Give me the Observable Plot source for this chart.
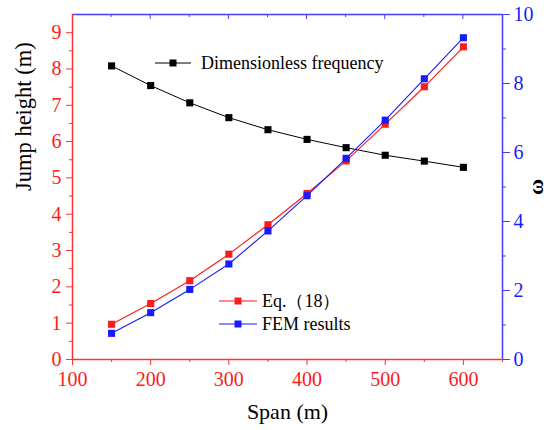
<!DOCTYPE html>
<html>
<head>
<meta charset="utf-8">
<script src="https://cdn.jsdelivr.net/npm/d3@7"></script>
<script src="https://cdn.jsdelivr.net/npm/@observablehq/plot@0.6"></script>
<style>
  html, body { margin: 0; padding: 0; background: #fff; }
  #chart svg { display: block; }
</style>
</head>
<body>
<div id="chart"></div>
<script>
// ---- data ----
const span = [150, 200, 250, 300, 350, 400, 450, 500, 550, 600];
const eq18 = [0.97, 1.54, 2.17, 2.90, 3.71, 4.57, 5.47, 6.48, 7.51, 8.61];
const fem = [0.72, 1.29, 1.93, 2.63, 3.54, 4.51, 5.54, 6.59, 7.73, 8.86];
const omega = [8.51, 7.94, 7.44, 7.01, 6.66, 6.38, 6.14, 5.92, 5.75, 5.57];

const xDomain = [100, 650];
const xMajor = [100, 200, 300, 400, 500, 600];
const xMinor = [150, 250, 350, 450, 550, 650];
const yDomain = [0, 9.5];
const yMajor = [0, 1, 2, 3, 4, 5, 6, 7, 8, 9];
const yMinor = [0.5, 1.5, 2.5, 3.5, 4.5, 5.5, 6.5, 7.5, 8.5];
const wDomain = [0, 10];
const wMajor = [0, 2, 4, 6, 8, 10];
const wMinor = [1, 3, 5, 7, 9];

const labels = {
  x: "Span (m)",
  y: "Jump height (m)",
  w: "ω",
  eq: "Eq.（18）",
  fem: "FEM results",
  freq: "Dimensionless frequency"
};

const RED = "#ff1a1a", BLUE = "#1a1aff", AXBLUE = "#4040ff", AXRED = "#ff3030";
const k = (yDomain[1] - yDomain[0]) / (wDomain[1] - wDomain[0]); // omega -> left scale

const rows = (ys, s) => span.map((x, i) => ({x, y: ys[i], s}));
const dEq = rows(eq18, "eq");
const dFem = rows(fem, "fem");
const dW = rows(omega.map(v => v * k), "w");

const font = "'Liberation Serif', 'Times New Roman', serif";

const chart = Plot.plot({
  width: 548,
  height: 430,
  marginLeft: 72,
  marginRight: 46,
  marginTop: 14,
  marginBottom: 71,
  style: {fontFamily: font, fontSize: "20px", background: "#fff", overflow: "visible"},
  x: {domain: xDomain},
  y: {domain: yDomain},
  marks: [
    // bottom axis
    Plot.axisX({ticks: xMajor, tickSize: 6, tickPadding: 6, stroke: AXRED, fill: RED, label: null, fontSize: 20}),
    Plot.axisX({ticks: xMinor, tickSize: 3, tickFormat: () => "", stroke: AXRED, label: null}),
    // left axis
    Plot.axisY({ticks: yMajor, tickSize: 6, tickPadding: 5, stroke: AXRED, fill: RED, label: null, fontSize: 20}),
    Plot.axisY({ticks: yMinor, tickSize: 3, tickFormat: () => "", stroke: AXRED, label: null}),
    // right axis (omega)
    Plot.axisY({anchor: "right", ticks: wMajor.map(v => v * k), tickFormat: d => String(Math.round(d / k)), tickSize: 7, tickPadding: 4, stroke: AXBLUE, fill: BLUE, label: null, fontSize: 20}),
    Plot.axisY({anchor: "right", ticks: wMinor.map(v => v * k), tickSize: 3, tickFormat: () => "", stroke: AXBLUE, label: null}),
    // frame lines
    Plot.ruleY([yDomain[1]], {stroke: AXBLUE, strokeWidth: 1.5}),
    Plot.ruleX([xDomain[1]], {stroke: AXBLUE, strokeWidth: 1.5}),
    Plot.ruleX([xDomain[0]], {stroke: AXRED, strokeWidth: 1.5}),
    Plot.ruleY([yDomain[0]], {stroke: AXRED, strokeWidth: 1.5}),
    // series
    Plot.line(dW, {x: "x", y: "y", stroke: "#000", strokeWidth: 1}),
    Plot.dot(dW, {x: "x", y: "y", symbol: "square", r: 4, fill: "#000"}),
    Plot.line(dEq, {x: "x", y: "y", stroke: RED, strokeWidth: 1.1}),
    Plot.dot(dEq, {x: "x", y: "y", symbol: "square", r: 4, fill: RED}),
    Plot.line(dFem, {x: "x", y: "y", stroke: BLUE, strokeWidth: 1.1}),
    Plot.dot(dFem, {x: "x", y: "y", symbol: "square", r: 4, fill: BLUE}),
    // axis titles
    Plot.text([labels.y], {text: d => d, frameAnchor: "left", dx: -49, dy: 4, rotate: -90, fontSize: 22.5, fill: "#000"}),
    Plot.text([labels.x], {text: d => d, frameAnchor: "bottom", lineAnchor: "middle", dy: 52, fontSize: 22, fill: "#000"}),
    Plot.text([labels.w], {text: d => d, frameAnchor: "right", dx: 33, dy: -8, rotate: -90, fontSize: 22, fontWeight: "bold", fill: "#000"})
  ]
});

const svg = d3.select(chart);
const xs = chart.scale("x");
// top inward ticks via the chart's own x scale
const topTicks = xMajor.concat(xMinor).filter(v => v > xDomain[0] && v < xDomain[1]);
svg.append("g").selectAll("line").data(topTicks).join("line")
  .attr("x1", d => xs.apply(d)).attr("x2", d => xs.apply(d))
  .attr("y1", 14).attr("y2", d => 14 + (d % 100 === 0 ? 5 : 3))
  .attr("stroke", AXBLUE).attr("stroke-width", 1);

// legends
function legendItem(g, x, y, color, text, len, gap) {
  g.append("line").attr("x1", x).attr("x2", x + len).attr("y1", y).attr("y2", y)
    .attr("stroke", color).attr("stroke-width", 1.1);
  g.append("rect").attr("x", x + len / 2 - 3.5).attr("y", y - 3.5).attr("width", 7).attr("height", 7).attr("fill", color);
  g.append("text").attr("x", x + len + gap).attr("y", y).attr("dy", "0.35em")
    .attr("text-anchor", "start")
    .attr("font-size", 18).attr("fill", "#000").text(text);
}
const lg = svg.append("g");
legendItem(lg, 155, 63, "#000", labels.freq, 36, 10);
legendItem(lg, 219, 301, RED, labels.eq, 38, 5);
legendItem(lg, 219, 324, BLUE, labels.fem, 38, 5);

// serif face on every text element
svg.style("font-family", font);
svg.selectAll("text").style("font-family", font);

document.getElementById("chart").appendChild(chart);
</script>
</body>
</html>
